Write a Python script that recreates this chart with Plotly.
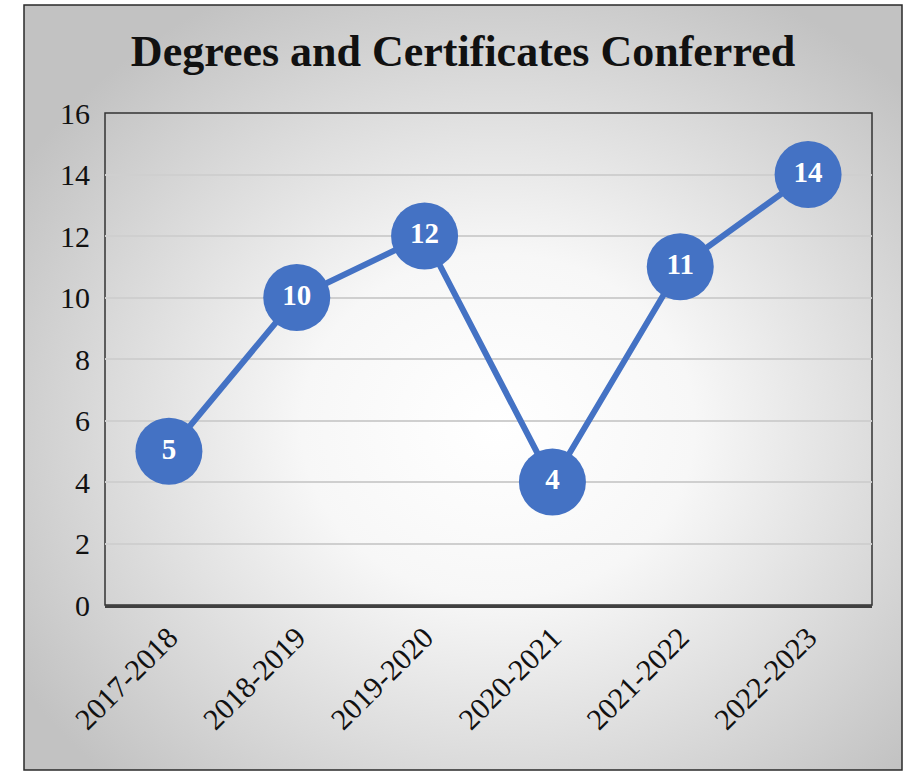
import base64
import plotly.graph_objects as go

categories = ["2017-2018", "2018-2019", "2019-2020", "2020-2021", "2021-2022", "2022-2023"]
values = [5, 10, 12, 4, 11, 14]
y_ticks = [0, 2, 4, 6, 8, 10, 12, 14, 16]
title_text = "Degrees and Certificates Conferred"

BLUE = "#4472C4"
SERIF = "Liberation Serif, Times New Roman, serif"

# radial gradient background (white centre -> grey edges)
svg = """<svg xmlns='http://www.w3.org/2000/svg' width='878' height='765' viewBox='0 0 878 765' preserveAspectRatio='none'>
<defs><radialGradient id='g' cx='54%' cy='55%' r='64%'>
<stop offset='0%' stop-color='#ffffff'/>
<stop offset='35%' stop-color='#f7f7f7'/>
<stop offset='100%' stop-color='#c2c2c2'/>
</radialGradient></defs>
<rect x='0' y='0' width='878' height='765' fill='url(#g)'/>
</svg>"""
svg_uri = "data:image/svg+xml;base64," + base64.b64encode(svg.encode()).decode()

W, H = 910, 771
L, R, T, B = 105, 872, 113, 605
pw, ph = R - L, B - T

def px(xp):
    return (xp - L) / pw

def py(yp):
    return (B - yp) / ph

fig = go.Figure()
fig.add_trace(go.Scatter(
    x=categories, y=values,
    mode="lines+markers+text",
    line=dict(color=BLUE, width=6),
    marker=dict(color=BLUE, size=67),
    text=[str(v) for v in values],
    textposition="middle center",
    textfont=dict(family=SERIF, size=29, color="white", weight="bold"),
    cliponaxis=False,
    hoverinfo="skip",
))

fig.update_layout(
    width=W, height=H,
    margin=dict(l=L, r=W - R, t=T, b=H - B),
    paper_bgcolor="white",
    plot_bgcolor="rgba(0,0,0,0)",
    showlegend=False,
    title=dict(text="<b>" + title_text + "</b>", x=463 / W, xanchor="center",
               y=1 - 51 / H, yanchor="middle", yref="container",
               font=dict(family=SERIF, size=44, color="#111111")),
    xaxis=dict(type="category", range=[-0.5, 5.5], tickangle=-45,
               tickfont=dict(family=SERIF, size=30, color="#111111"),
               showgrid=False, showline=True, linecolor="#404040", linewidth=3,
               ticks="", zeroline=False),
    yaxis=dict(range=[0, 16], tickvals=y_ticks, ticktext=[str(v) for v in y_ticks],
               tickfont=dict(family=SERIF, size=30, color="#111111"),
               showgrid=True, gridcolor="#cfcfcf", gridwidth=1.5,
               showline=False, zeroline=False, ticks="", ticklabelstandoff=14),
    images=[dict(source=svg_uri, xref="paper", yref="paper",
                 x=px(24), y=py(5), sizex=px(902) - px(24), sizey=py(5) - py(770),
                 xanchor="left", yanchor="top", sizing="stretch", layer="below")],
    shapes=[
        dict(type="rect", xref="paper", yref="paper",
             x0=px(24), x1=px(902), y0=py(770), y1=py(5),
             line=dict(color="#2a2a2a", width=1.5), layer="below"),
        dict(type="rect", xref="paper", yref="paper", x0=0, x1=1, y0=0, y1=1,
             line=dict(color="#333333", width=1.5), layer="below"),
    ],
)

fig.write_html("out.html", config={"displayModeBar": False},
               post_script="document.body.style.margin='0px';document.body.style.padding='0px';")
